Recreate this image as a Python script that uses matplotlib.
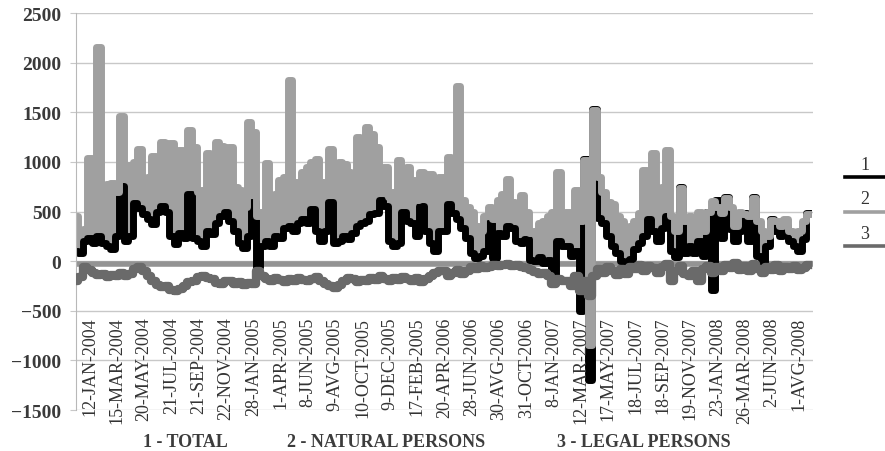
import matplotlib
matplotlib.use('Agg')
import matplotlib.pyplot as plt
from matplotlib.lines import Line2D
import numpy as np

# series (one value per ~7 trading days)
natural = np.array([
    450, 300, 320, 1040, 550, 2160, 650, 780, 790, 700,
    1460, 950, 970, 1000, 1130, 650, 850, 1060, 720, 1200,
    700, 1190, 750, 1120, 950, 1320, 1150, 700, 720, 1090,
    620, 1200, 1160, 900, 1150, 750, 720, 550, 1400, 1300,
    450, 500, 990, 600, 680, 820, 850, 1820, 800, 700,
    900, 950, 1000, 1030, 800, 700, 1130, 700, 1000, 980,
    900, 620, 1250, 850, 1350, 1280, 1150, 750, 950, 650,
    700, 1020, 700, 950, 820, 620, 900, 880, 880, 600,
    850, 850, 1050, 820, 1760, 620, 550, 500, 350, 300,
    450, 550, 420, 620, 680, 830, 600, 420, 670, 500,
    280, 300, 380, 400, 450, 500, 900, 300, 500, 450,
    720, 400, 1020, -850, 1520, 850, 700, 600, 580, 450,
    400, 300, 350, 400, 480, 920, 700, 1090, 700, 750,
    1120, 450, 300, 740, 400, 450, 350, 500, 300, 490,
    610, 550, 480, 640, 550, 350, 500, 470, 450, 640,
    400, 300, 250, 410, 400, 350, 420, 300, 280, 300,
    400, 470])

total = np.array([
    100, 80, 200, 230, 180, 250, 180, 150, 120, 250,
    760, 200, 250, 590, 540, 470, 420, 370, 500, 560,
    500, 250, 170, 280, 230, 680, 230, 200, 150, 300,
    270, 380, 450, 490, 400, 300, 180, 130, 250, 600,
    -60, 150, 200, 150, 250, 230, 330, 350, 300, 380,
    420, 380, 530, 300, 200, 300, 600, 180, 200, 250,
    220, 280, 350, 380, 400, 470, 480, 620, 560, 200,
    150, 180, 500, 400, 380, 250, 560, 300, 180, 100,
    300, 300, 580, 480, 420, 330, 230, 80, 30, 50,
    100, 380, 30, 280, 250, 350, 330, 200, 180, 220,
    10, 0, 40, -20, 10, -220, 200, 150, 150, 50,
    100, -500, 1030, -1200, 1530, 430, 380, 250, 150, 80,
    0, -60, 20, 120, 180, 250, 420, 300, 200, 330,
    450, 100, 40, 750, 80, 150, 80, 200, 50, 500,
    -290, 620, 230, 650, 320, 200, 300, 480, 200, 650,
    50, -50, 150, 420, 300, 250, 350, 200, 150, 100,
    220, 480])

legal = np.array([
    -200, -160, -60, -90, -120, -140, -130, -160, -140, -150,
    -120, -150, -130, -80, -60, -100, -150, -200, -240, -260,
    -250, -290, -300, -280, -250, -210, -200, -160, -150, -170,
    -180, -220, -230, -200, -200, -230, -210, -240, -220, -230,
    -100, -150, -180, -200, -170, -190, -210, -180, -200, -170,
    -190, -200, -180, -160, -200, -230, -250, -270, -240, -200,
    -170, -180, -210, -190, -200, -170, -190, -150, -180, -200,
    -170, -190, -160, -180, -200, -170, -210, -180, -150, -120,
    -100, -100, -150, -120, -90, -130, -100, -60, -80, -50,
    -70, -60, -40, -50, -40, -30, -50, -40, -60, -70,
    -90, -110, -130, -120, -150, -230, -180, -200, -200, -250,
    -150, -300, -200, -350, -150, -80, -120, -60, -100, -140,
    -80, -130, -60, -80, -40, -100, -50, -70, -120, -60,
    -30, -200, -100, -50, -130, -150, -100, -200, -80, -50,
    -120, -60, -100, -40, -70, -20, -90, -50, -100, -30,
    -80, -120, -60, -90, -40, -100, -60, -80, -50, -90,
    -70, -40])

date_labels = ['12-JAN-2004', '15-MAR-2004', '20-MAY-2004', '21-JUL-2004',
               '21-SEP-2004', '22-NOV-2004', '28-JAN-2005', '1-APR-2005',
               '8-JUN-2005', '9-AVG-2005', '10-OCT-2005', '9-DEC-2005',
               '17-FEB-2005', '20-APR-2006', '28-JUN-2006', '30-AVG-2006',
               '31-OCT-2006', '8-JAN-2007', '12-MAR-2007', '17-MAY-2007',
               '18-JUL-2007', '18-SEP-2007', '19-NOV-2007', '23-JAN-2008',
               '26-MAR-2008', '2-JUN-2008', '1-AVG-2008']
first_label, label_step = 3, 6

series_names = ['1 - TOTAL', '2 - NATURAL PERSONS', '3 - LEGAL PERSONS']
c_tot, c_nat, c_leg = '#000000', '#a0a0a0', '#6a6a6a'
serif = ['Liberation Serif', 'DejaVu Serif']

W, H = 885, 452
fig = plt.figure(figsize=(W / 100, H / 100), dpi=100)
ax = fig.add_axes([76 / W, 1 - 411 / H, (813 - 76) / W, (411 - 14) / H])

x = np.arange(len(natural))
ax.set_xlim(0, len(natural))
ax.set_ylim(-1500, 2500)

# zero axis drawn as a thick grey band, like the original
ax.axhline(-30, color='#939393', lw=4, zorder=1.5)

ax.fill_between(x, total, natural, where=natural >= total, step='mid',
                color=c_nat, lw=0, zorder=1.8)
ax.plot(x, total, drawstyle='steps-mid', color=c_tot, lw=5, zorder=2)
ax.plot(x, natural, drawstyle='steps-mid', color=c_nat, lw=5, zorder=2.5)
ax.plot(x, legal, drawstyle='steps-mid', color=c_leg, lw=6, zorder=3)

ax.set_yticks(np.arange(-1500, 2501, 500))
ax.yaxis.grid(True, color='#c8c8c8', lw=1)
ax.set_axisbelow(True)
ax.set_xticks([])
for s in ['top', 'right', 'bottom']:
    ax.spines[s].set_visible(False)
ax.spines['left'].set_color('#b8b8b8')
ax.tick_params(axis='y', length=4.3, color='#c8c8c8', pad=6.5,
               labelsize=14, labelcolor='#3a3a3a')
for lab in ax.get_yticklabels():
    lab.set_fontfamily(serif)
    lab.set_fontweight('bold')

# rotated date labels sit inside the plot, below the -500 line
for k, lab in enumerate(date_labels):
    ax.text(first_label + k * label_step, -560, lab, rotation=90,
            ha='center', va='top', fontsize=13, family=serif, color='#333333')

# legend under the chart
for name, px in zip(series_names, [143, 287, 557]):
    fig.text(px / W, 1 / H, name, ha='left', va='bottom', fontsize=13,
             family=serif, fontweight='bold', color='#3c3c3c')

# legend on the right: number above a short line
for k, (num, col) in enumerate(zip(['1', '2', '3'], [c_tot, c_nat, c_leg])):
    yl = 1 - (178 + 34.5 * k) / H
    fig.add_artist(Line2D([845 / W, 1.0], [yl, yl], color=col, lw=2.6,
                          transform=fig.transFigure))
    fig.text(865 / W, yl + 8 / H, num, ha='center', va='baseline',
             fontsize=13, family=serif, color='#333333')

fig.savefig('out.png', dpi=100)
